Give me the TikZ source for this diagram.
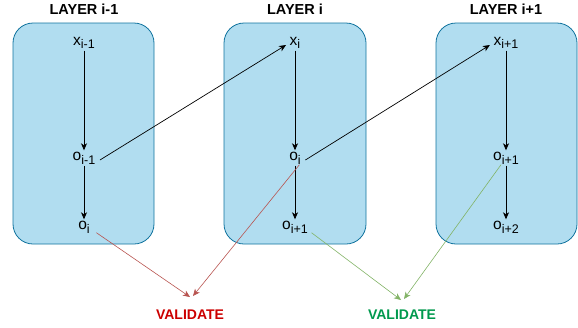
\documentclass[tikz,border=0pt]{standalone}
\usepackage{fontspec}
\setmainfont{Liberation Sans}
\usetikzlibrary{arrows.meta}
\definecolor{boxfill}{HTML}{B1DDF0}
\definecolor{boxdraw}{HTML}{10739E}
\definecolor{redline}{HTML}{B85450}
\definecolor{greenline}{HTML}{82B366}
\definecolor{redtext}{HTML}{CC0000}
\definecolor{greentext}{HTML}{00994D}
\newcommand{\sbs}[1]{\raisebox{-0.45ex}{\fontsize{12.5}{13}\selectfont #1}}
\tikzset{
  layerbox/.style={draw=boxdraw, fill=boxfill, rounded corners=20pt, line width=0.8pt},
  var/.style={inner sep=1.5pt, font=\fontsize{15.5}{17}\selectfont},
  title/.style={font=\bfseries\fontsize{14.5}{16}\selectfont},
  valtext/.style={font=\bfseries\fontsize{14}{16}\selectfont},
  blk/.style={-{Stealth[length=7pt,width=6pt,inset=2pt]}, line width=0.7pt},
  redarr/.style={draw=redline, -{Stealth[length=7pt,width=6pt,inset=2pt]}, line width=0.6pt},
  greenarr/.style={draw=greenline, -{Stealth[length=7pt,width=6pt,inset=2pt]}, line width=0.6pt},
}
\begin{document}
\begin{tikzpicture}[x=1pt,y=-1pt]
\useasboundingbox (0,0) rectangle (578,327);
% boxes
\draw[layerbox] (13,23) rectangle (154,244);
\draw[layerbox] (224,23) rectangle (366,244);
\draw[layerbox] (436,23) rectangle (577,244);
% titles
\node[title] (t1) at (84,9) {LAYER i-1};
\node[title] (t2) at (295,9) {LAYER i};
\node[title] (t3) at (506,9) {LAYER i+1};
% layer 1
\node[var] (xa) at (84,43) {x\sbs{i-1}};
\node[var] (oa1) at (84,158) {o\sbs{i-1}};
\node[var] (oa2) at (84,227) {o\sbs{i}};
% layer 2
\node[var] (xb) at (295,43) {x\sbs{i}};
\node[var] (ob1) at (295,158) {o\sbs{i}};
\node[var] (ob2) at (295,227) {o\sbs{i+1}};
% layer 3
\node[var] (xc) at (506,43) {x\sbs{i+1}};
\node[var] (oc1) at (506,158) {o\sbs{i+1}};
\node[var] (oc2) at (506,227) {o\sbs{i+2}};
% validate
\node[valtext, text=redtext] (vr) at (190,315) {VALIDATE};
\node[valtext, text=greentext] (vg) at (402,315) {VALIDATE};
\coordinate (vrA) at (190,297);
\coordinate (vrB) at (193,296);
\coordinate (vgA) at (401,300);
\coordinate (vgB) at (404,299);
% vertical arrows
\draw[blk] (xa.south) -- (oa1.north);
\draw[blk] (oa1.south) -- (oa2.north);
\draw[blk] (xb.south) -- (ob1.north);
\draw[blk] (ob1.south) -- (ob2.north);
\draw[blk] (xc.south) -- (oc1.north);
\draw[blk] (oc1.south) -- (oc2.north);
% cross arrows
\draw[blk] ([xshift=3pt,yshift=-2pt]oa1.east) -- ([xshift=-2pt,yshift=-2pt]xb.west);
\draw[blk] ([xshift=3pt,yshift=-2pt]ob1.east) -- ([xshift=-2pt,yshift=-2pt]xc.west);
% validate arrows
\draw[redarr] ([xshift=5pt,yshift=2pt]oa2.south east) -- (vrA);
\draw[redarr] ([xshift=-3pt,yshift=1pt]ob1.south east) -- (vrB);
\draw[greenarr] ([xshift=2pt,yshift=2pt]ob2.south east) -- (vgA);
\draw[greenarr] ([xshift=-5pt,yshift=1pt]oc1.south) -- (vgB);
\end{tikzpicture}
\end{document}
